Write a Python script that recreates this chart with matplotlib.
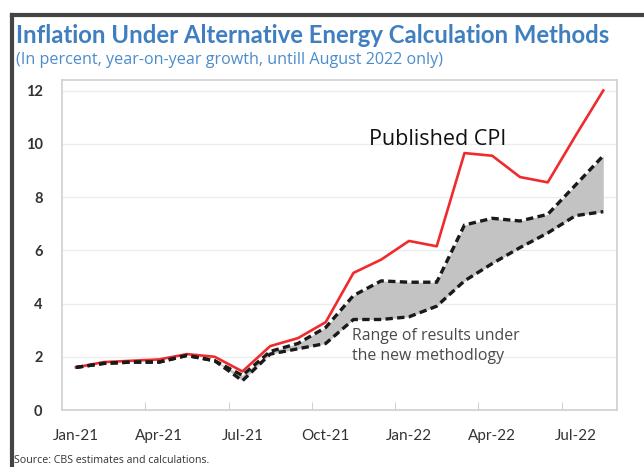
import numpy as np
import matplotlib.pyplot as plt
from matplotlib.lines import Line2D

# monthly data, Jan-21 .. Aug-22
months = ["Jan-21", "Feb-21", "Mar-21", "Apr-21", "May-21", "Jun-21", "Jul-21",
          "Aug-21", "Sep-21", "Oct-21", "Nov-21", "Dec-21", "Jan-22", "Feb-22",
          "Mar-22", "Apr-22", "May-22", "Jun-22", "Jul-22", "Aug-22"]
published_cpi = [1.6, 1.8, 1.85, 1.9, 2.1, 2.0, 1.45, 2.4, 2.7, 3.3, 5.15, 5.65,
                 6.35, 6.15, 9.65, 9.55, 8.75, 8.55, 10.3, 12.0]
range_upper = [1.6, 1.75, 1.8, 1.8, 2.05, 1.85, 1.3, 2.2, 2.5, 3.1, 4.3, 4.85,
               4.8, 4.8, 6.95, 7.2, 7.1, 7.35, 8.45, 9.55]
range_lower = [1.6, 1.75, 1.8, 1.8, 2.05, 1.85, 1.1, 2.1, 2.3, 2.5, 3.4, 3.4,
               3.5, 3.9, 4.85, 5.5, 6.1, 6.65, 7.3, 7.45]
label_every = 3
y_ticks = [0, 2, 4, 6, 8, 10, 12]

plt.rcParams['font.family'] = ['Lato', 'DejaVu Sans']
open_sans = ['Open Sans', 'DejaVu Sans']

fig = plt.figure(figsize=(6.44, 4.67), dpi=100)
ax = fig.add_axes([0.0963, 0.122, 0.862, 0.707])

x = np.arange(len(months))

ax.fill_between(x, range_lower, range_upper, color='#c3c3c3', lw=0, zorder=1)
ax.plot(x, published_cpi, color='#ef2b2e', lw=1.9, zorder=2)
ax.plot(x, range_upper, color='#1a1a1a', lw=2.4, ls=(0, (2.2, 1.3)), zorder=3)
ax.plot(x, range_lower, color='#1a1a1a', lw=2.4, ls=(0, (2.2, 1.3)), zorder=3)

ax.set_xlim(-0.5, len(months) - 0.5)
ax.set_ylim(0, 12.4)

# labels on every third month, tick marks between categories
ax.set_xticks(x[::label_every])
ax.set_xticklabels(months[::label_every], fontsize=11, color='#333333')
ax.set_xticks(x[::label_every][1:] - 0.5, minor=True)
ax.tick_params(axis='x', which='major', length=0, pad=14)
ax.tick_params(axis='x', which='minor', direction='in', length=6, color='#c8c8c8')

ax.set_yticks(y_ticks)
ax.set_yticklabels([str(v) for v in y_ticks], fontsize=10.5, color='#333333',
                   fontweight='bold')
ax.tick_params(axis='y', length=0, pad=14)

ax.grid(axis='y', color='#ececec', lw=1)
ax.set_axisbelow(True)
for s in ax.spines.values():
    s.set_color('#d0d0d0')
    s.set_linewidth(1.2)

ax.text(0.553, 0.803, "Published CPI", transform=ax.transAxes, fontsize=15.5,
        family=open_sans, color='#111111', va='baseline')
ax.text(0.523, 0.248, "Range of results under\nthe new methodlogy",
        transform=ax.transAxes, fontsize=11.4, family=open_sans,
        color='#4a4a4a', linespacing=1.3, va='top')

# titles and source
fig.text(0.025, 0.908, "Inflation Under Alternative Energy Calculation Methods",
         fontsize=17.2, fontweight='bold', color='#3f7fc0', va='baseline')
fig.text(0.025, 0.863, "(In percent, year-on-year growth, untill August 2022 only)",
         fontsize=11.6, family=open_sans, color='#4b8ccb', va='baseline')
fig.text(0.022, 0.008, "Source: CBS estimates and calculations.", fontsize=7.7,
         family=open_sans, color='#333333')

# dark frame around the chart (top and left)
fig.add_artist(Line2D([0.0186, 1.0], [0.968, 0.968], color='#444444', lw=3,
                      transform=fig.transFigure))
fig.add_artist(Line2D([0.0186, 0.0186], [0.0, 0.968], color='#444444', lw=3,
                      transform=fig.transFigure))

fig.savefig("out.png", dpi=100)
